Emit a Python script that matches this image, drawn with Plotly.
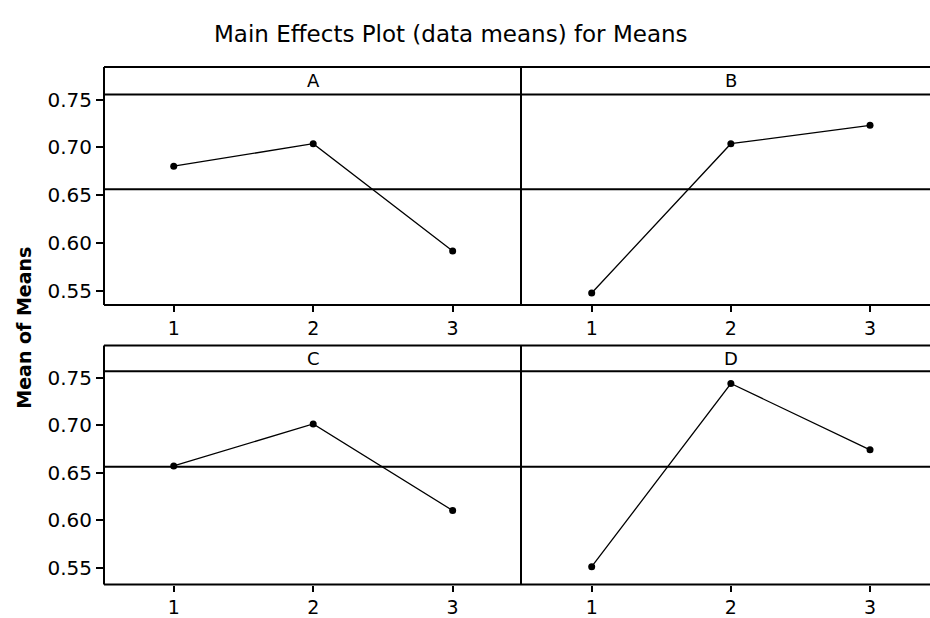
import plotly.graph_objects as go

# ---- data ----
levels = [1, 2, 3]
factor_names = ["A", "B", "C", "D"]
mean_A = [0.6804, 0.7040, 0.5914]
mean_B = [0.5475, 0.7040, 0.7233]
mean_C = [0.6572, 0.7013, 0.6104]
mean_D = [0.5514, 0.7438, 0.6741]
grand_mean = 0.6563
y_tick_vals = [0.55, 0.60, 0.65, 0.70, 0.75]
y_tick_text = ["0.55", "0.60", "0.65", "0.70", "0.75"]
x_tick_text = ["1", "2", "3"]

W, H = 930, 618

def px(x):
    return x / W

def py(y):
    return 1 - y / H

fig = go.Figure()

series = [mean_A, mean_B, mean_C, mean_D]
axes = [("x", "y"), ("x2", "y2"), ("x3", "y3"), ("x4", "y4")]
for vals, (xa, ya) in zip(series, axes):
    fig.add_trace(go.Scatter(
        x=levels, y=vals, xaxis=xa, yaxis=ya, mode="lines+markers",
        line=dict(color="black", width=1.3),
        marker=dict(color="black", size=7, symbol="circle"),
        showlegend=False, hoverinfo="skip"))

# geometry (pixels)
x_left, x_mid, x_right = 104, 521, 930
rows = [dict(top=61, strip=89, bot=303, yr=[0.5348, 0.7555]),
        dict(top=344, strip=370.3, bot=587, yr=[0.5327, 0.7566])]

tickfont = dict(family="DejaVu Sans", size=20, color="black")
xtickfont = dict(family="DejaVu Sans", size=19, color="black")
common_x = dict(tickmode="array", tickvals=levels, ticktext=x_tick_text,
                ticks="outside", ticklen=6, tickwidth=1.5, tickcolor="black",
                showgrid=False, zeroline=False, showline=False,
                tickfont=xtickfont, fixedrange=True)

layout_axes = {}
for i, (xa, ya) in enumerate(axes):
    r = rows[i // 2]
    left = (i % 2 == 0)
    xdom = [px(x_left), px(x_mid)] if left else [px(x_mid), 1.0]
    xr = [0.5, 3.49] if left else [0.492, 3.431]
    xkey = "xaxis" if i == 0 else f"xaxis{i+1}"
    ykey = "yaxis" if i == 0 else f"yaxis{i+1}"
    layout_axes[xkey] = dict(common_x, domain=xdom, range=xr, anchor=ya)
    ydict = dict(domain=[py(r["bot"]), py(r["strip"])], range=r["yr"],
                 anchor=xa, showgrid=False, zeroline=False, showline=False,
                 fixedrange=True)
    if left:
        ydict.update(tickmode="array", tickvals=y_tick_vals, ticktext=y_tick_text,
                     ticks="outside", ticklen=7, tickwidth=1.5, tickcolor="black",
                     tickfont=tickfont)
    else:
        ydict.update(showticklabels=False, ticks="")
    layout_axes[ykey] = ydict

shapes = []
lw = 2
for r in rows:
    for yy in (r["top"], r["strip"], r["bot"]):
        shapes.append(dict(type="line", xref="paper", yref="paper",
                           x0=px(x_left), x1=1.0, y0=py(yy), y1=py(yy),
                           line=dict(color="black", width=lw)))
    for xx in (x_left, x_mid):
        shapes.append(dict(type="line", xref="paper", yref="paper",
                           x0=px(xx), x1=px(xx), y0=py(r["top"]), y1=py(r["bot"]),
                           line=dict(color="black", width=lw)))

# grand mean reference lines
for xa, ya in axes:
    shapes.append(dict(type="line", xref=f"{xa} domain", yref=ya,
                       x0=0, x1=1, y0=grand_mean, y1=grand_mean,
                       line=dict(color="black", width=2)))

annotations = []
for i, (xa, ya) in enumerate(axes):
    r = rows[i // 2]
    annotations.append(dict(text=factor_names[i], xref=xa, yref="paper",
                            x=2, y=py((r["top"] + r["strip"]) / 2),
                            showarrow=False, xanchor="center", yanchor="middle",
                            font=dict(family="DejaVu Sans", size=18, color="black")))

annotations.append(dict(text="Main Effects Plot (data means) for Means",
                        xref="paper", yref="paper", x=px(451), y=py(27),
                        showarrow=False, xanchor="center", yanchor="middle",
                        font=dict(family="DejaVu Sans", size=23, color="black")))
annotations.append(dict(text="<b>Mean of Means</b>", xref="paper", yref="paper",
                        x=px(24), y=py(326), textangle=-90,
                        showarrow=False, xanchor="center", yanchor="middle",
                        font=dict(family="DejaVu Sans", size=19, color="black")))

fig.update_layout(width=W, height=H, margin=dict(l=0, r=0, t=0, b=0),
                  paper_bgcolor="white", plot_bgcolor="white",
                  shapes=shapes, annotations=annotations, **layout_axes)

fig.write_html("out.html", config={"displayModeBar": False},
               post_script="document.body.style.margin='0';document.body.style.overflow='hidden';")
